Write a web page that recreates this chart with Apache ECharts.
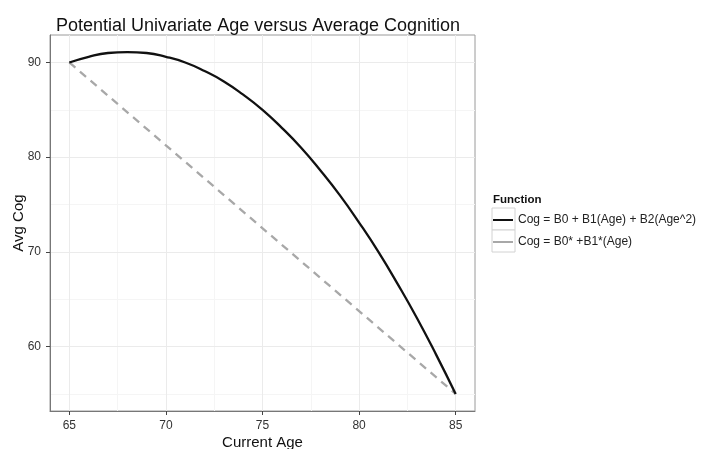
<!DOCTYPE html>
<html>
<head>
<meta charset="utf-8">
<script src="https://cdn.jsdelivr.net/npm/echarts@6/dist/echarts.min.js"></script>
<style>
  html, body { margin: 0; padding: 0; background: #ffffff; }
  #chart { width: 703px; height: 449px; }
</style>
</head>
<body>
<div id="chart"></div>
<script>
// Age (years) and average cognition values for the two candidate models
const ages = [65, 66, 67, 68, 69, 70, 71, 72, 73, 74, 75, 76, 77, 78, 79, 80, 81, 82, 83, 84, 85];
const quadCog = [90, 90.6, 91, 91.1, 91, 90.6, 90, 89.1, 88, 86.6, 85, 83.1, 81, 78.6, 76, 73.1, 70, 66.6, 63, 59.1, 55];
const linAges = [65, 85];
const linCog = [90, 55];

const seriesNames = ['Cog = B0 + B1(Age) + B2(Age^2)', 'Cog = B0* +B1*(Age)'];

// Axis ticks and background grid positions
const xTicks = [65, 70, 75, 80, 85];
const yTicks = [60, 70, 80, 90];
const xMinorGrid = [67.5, 72.5, 77.5, 82.5];
const yMinorGrid = [55, 65, 75, 85];

const FONT = 'Liberation Sans, Arial, Helvetica, sans-serif';

function gridLines(xs, ys, color) {
  return xs.map(v => ({ xAxis: v, lineStyle: { color } }))
    .concat(ys.map(v => ({ yAxis: v, lineStyle: { color } })));
}

const chart = echarts.init(document.getElementById('chart'), null, { renderer: 'canvas' });

chart.setOption({
  animation: false,
  backgroundColor: '#ffffff',
  textStyle: { fontFamily: FONT },
  title: [
    {
      text: 'Potential Univariate Age versus Average Cognition',
      left: 258, top: 17, textAlign: 'center', padding: 0,
      textStyle: { fontFamily: FONT, fontSize: 18, fontWeight: 'normal', color: '#111' }
    },
    {
      text: 'Function',
      left: 493, top: 194, padding: 0,
      textStyle: { fontFamily: FONT, fontSize: 11.5, fontWeight: 'bold', color: '#111' }
    }
  ],
  grid: {
    left: 50, right: 228, top: 35, bottom: 38,
    outerBoundsMode: 'none', containLabel: false,
    show: true, borderColor: '#9a9a9a', borderWidth: 1, backgroundColor: '#ffffff'
  },
  legend: {
    orient: 'vertical',
    left: 493, top: 209, padding: 0,
    itemWidth: 20, itemHeight: 2, itemGap: 0,
    icon: 'rect',
    data: seriesNames,
    textStyle: { fontFamily: FONT, fontSize: 12, color: '#222', lineHeight: 22 },
    selectedMode: false
  },
  graphic: [
    { type: 'rect', shape: { x: 492, y: 208, width: 23, height: 22 }, style: { fill: '#fff', stroke: '#d2d2d2', lineWidth: 1 }, z: -1 },
    { type: 'rect', shape: { x: 492, y: 230, width: 23, height: 22 }, style: { fill: '#fff', stroke: '#d2d2d2', lineWidth: 1 }, z: -1 }
  ],
  xAxis: {
    type: 'value', min: 64, max: 86, z: 4,
    name: 'Current Age', nameLocation: 'middle', nameGap: 24, nameMoveOverlap: false,
    nameTextStyle: { fontFamily: FONT, fontSize: 15, color: '#111' },
    axisLine: { show: true, onZero: false, lineStyle: { color: '#777', width: 1 } },
    axisTick: { show: true, length: 4, customValues: xTicks, lineStyle: { color: '#444' } },
    axisLabel: { customValues: xTicks, fontFamily: FONT, fontSize: 12, color: '#333', margin: 9 },
    splitLine: { show: false }
  },
  yAxis: {
    type: 'value', min: 53.2, max: 92.9, z: 4,
    name: 'Avg Cog', nameLocation: 'middle', nameGap: 24, nameRotate: 90, nameMoveOverlap: false,
    nameTextStyle: { fontFamily: FONT, fontSize: 15, color: '#111' },
    axisLine: { show: true, onZero: false, lineStyle: { color: '#777', width: 1 } },
    axisTick: { show: true, length: 4, customValues: yTicks, lineStyle: { color: '#444' } },
    axisLabel: { customValues: yTicks, fontFamily: FONT, fontSize: 12, color: '#333', margin: 9 },
    splitLine: { show: false }
  },
  series: [
    {
      // background grid lines
      type: 'line', data: [], silent: true, z: 1,
      markLine: {
        silent: true, symbol: 'none', z: 1, label: { show: false },
        lineStyle: { type: 'solid', width: 1 },
        data: gridLines(xMinorGrid, yMinorGrid, '#f5f5f5').concat(gridLines(xTicks, yTicks, '#ebebeb'))
      }
    },
    {
      name: seriesNames[0],
      type: 'line', z: 6,
      data: ages.map((a, i) => [a, quadCog[i]]),
      smooth: true, showSymbol: false,
      lineStyle: { color: '#111', width: 2.3 },
      itemStyle: { color: '#111' }
    },
    {
      name: seriesNames[1],
      type: 'line', z: 5,
      data: linAges.map((a, i) => [a, linCog[i]]),
      showSymbol: false,
      lineStyle: { color: '#a8a8a8', width: 2.3, type: [8, 6] },
      itemStyle: { color: '#a8a8a8' }
    }
  ]
});
</script>
</body>
</html>
